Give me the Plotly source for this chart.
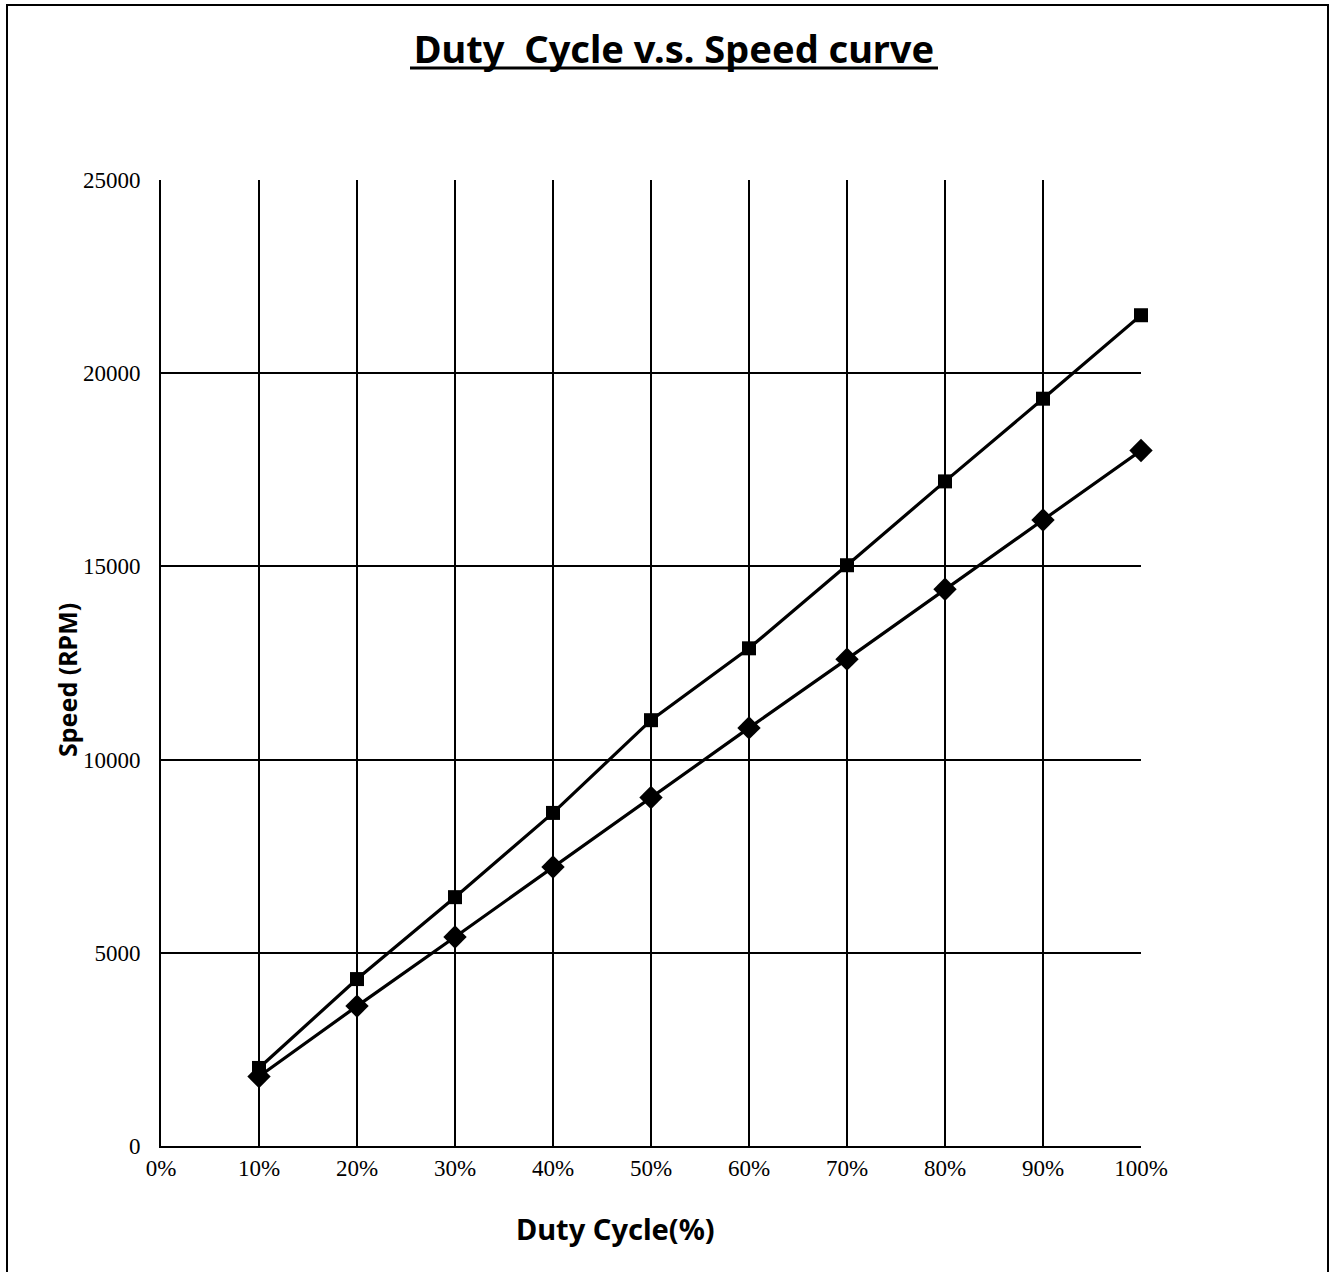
import plotly.graph_objects as go

duty = [0.1, 0.2, 0.3, 0.4, 0.5, 0.6, 0.7, 0.8, 0.9, 1.0]
speed_square = [2020, 4320, 6440, 8620, 11020, 12880, 15030, 17200, 19340, 21500]
speed_diamond = [1800, 3620, 5410, 7220, 9020, 10820, 12600, 14410, 16200, 18000]
x_tickvals = [0, 0.1, 0.2, 0.3, 0.4, 0.5, 0.6, 0.7, 0.8, 0.9, 1.0]
x_ticktext = ["0%", "10%", "20%", "30%", "40%", "50%", "60%", "70%", "80%", "90%", "100%"]
y_tickvals = [0, 5000, 10000, 15000, 20000, 25000]

fig = go.Figure()
fig.add_trace(go.Scatter(x=duty, y=speed_square, mode="lines+markers",
                         line=dict(color="black", width=3.2),
                         marker=dict(symbol="square", size=14, color="black"),
                         cliponaxis=False, showlegend=False))
fig.add_trace(go.Scatter(x=duty, y=speed_diamond, mode="lines+markers",
                         line=dict(color="black", width=3.2),
                         marker=dict(symbol="diamond", size=18, color="black"),
                         cliponaxis=False, showlegend=False))

tick_font = dict(family="Liberation Serif", size=23, color="black")
fig.update_layout(
    width=1336, height=1272,
    margin=dict(l=161, r=195, t=180, b=126),
    paper_bgcolor="white", plot_bgcolor="white",
    title=dict(text="<b>Duty  Cycle v.s. Speed curve</b>", x=(674 - 161) / 980, xref="paper",
               xanchor="center", y=1 - 50 / 1272, yanchor="middle",
               font=dict(family="Noto Sans", size=38, color="black")),
    xaxis=dict(range=[0, 1], tickvals=x_tickvals, ticktext=x_ticktext,
               showgrid=True, gridcolor="black", gridwidth=1.5,
               showline=True, linecolor="black", linewidth=2,
               ticks="", tickfont=tick_font, zeroline=False),
    yaxis=dict(range=[0, 25000], tickvals=y_tickvals, tickformat="d",
               showgrid=True, gridcolor="black", gridwidth=1.5,
               showline=True, linecolor="black", linewidth=2,
               ticks="outside", ticklen=14, tickcolor="white", tickfont=tick_font, zeroline=False),
    annotations=[
        dict(text="<b>Duty Cycle(%)</b>", xref="paper", yref="paper",
             x=(615 - 161) / 980, y=(1146 - 1228) / 966, xanchor="center", yanchor="middle",
             showarrow=False, font=dict(family="Noto Sans", size=29, color="black")),
        dict(text="<b>Speed (RPM)</b>", xref="paper", yref="paper", textangle=-90,
             x=(67 - 161) / 980, y=(1146 - 680) / 966, xanchor="center", yanchor="middle",
             showarrow=False, font=dict(family="Noto Sans", size=25, color="black")),
    ],
    shapes=[
        dict(type="rect", xref="paper", yref="paper",
             x0=(7 - 161) / 980, x1=(1328 - 161) / 980,
             y0=(1146 - 1290) / 966, y1=(1146 - 5) / 966,
             line=dict(color="black", width=2), layer="below"),
        dict(type="line", xref="paper", yref="paper",
             x0=(410 - 161) / 980, x1=(938 - 161) / 980,
             y0=(1146 - 68) / 966, y1=(1146 - 68) / 966,
             line=dict(color="black", width=3)),
    ],
)

fig.write_html("out.html", config={"displayModeBar": False},
               post_script="document.body.style.margin='0';")
